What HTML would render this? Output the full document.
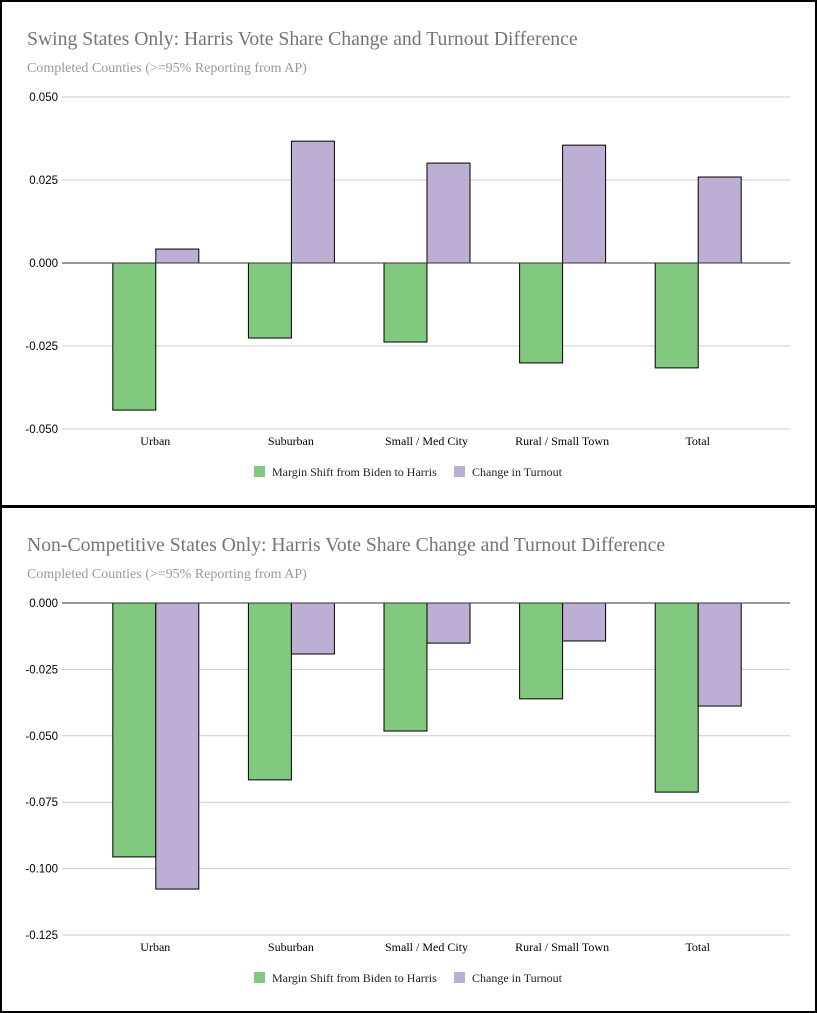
<!DOCTYPE html>
<html><head><meta charset="utf-8"><style>
body{margin:0;width:817px;height:1013px;background:#fff;overflow:hidden}
svg{display:block}
</style></head><body>
<svg id="s" width="817" height="1013"></svg>
<script>
const categories=["Urban","Suburban","Small / Med City","Rural / Small Town","Total"];
const swingMargin=[-0.0443,-0.0226,-0.0238,-0.0301,-0.0316];
const swingTurnout=[0.0042,0.0367,0.0301,0.0355,0.0259];
const swingTicks=[0.05,0.025,0,-0.025,-0.05];
const ncMargin=[-0.0956,-0.0666,-0.0482,-0.0361,-0.0712];
const ncTurnout=[-0.1077,-0.0192,-0.0151,-0.0143,-0.0388];
const ncTicks=[0,-0.025,-0.05,-0.075,-0.1,-0.125];
const seriesNames=["Margin Shift from Biden to Harris","Change in Turnout"];
const colors=["#81c97e","#bdaed4"];
const NS="http://www.w3.org/2000/svg";
const svg=document.getElementById('s');
function mk(t,a,p,txt){const e=document.createElementNS(NS,t);for(const k in a)e.setAttribute(k,a[k]);if(txt!==undefined)e.textContent=txt;(p||svg).appendChild(e);return e;}
function chart(oy,title,ticks,series,slug){
  const g=mk('g',{});
  
  
  const t=mk('text',{x:27,y:oy+45,'font-family':'Liberation Serif, serif','font-size':19.7,fill:'#757575'},g,title);
  
  const st=mk('text',{x:27,y:oy+72,'font-family':'Liberation Serif, serif','font-size':14,fill:'#999'},g,'Completed Counties (>=95% Reporting from AP)');
  
  const top=oy+97, bot=oy+429, mx=ticks[0], mn=ticks[ticks.length-1];
  const y=v=>top+(mx-v)/(mx-mn)*(bot-top);
  const x0=87.5, step=135.6;
  const cx=i=>x0+step*(i+0.5);
  ticks.forEach(v=>{
    if(v!==0){const l=mk('line',{x1:62,x2:790,y1:y(v),y2:y(v),stroke:'#ccc','stroke-width':1},g);}
    const tl=mk('text',{x:58,y:y(v)+4,'text-anchor':'end','font-family':'Liberation Sans, sans-serif','font-size':11.5,fill:'#000'},g,v.toFixed(3));
    
  });
  const bw=43;
  series.forEach((vals,s)=>{
    vals.forEach((v,i)=>{
      const bx=cx(i)-bw+s*bw, y1=Math.min(y(v),y(0)), h=Math.abs(y(v)-y(0));
      const r=mk('rect',{x:bx+0.5,y:y1,width:bw,height:h,fill:colors[s],stroke:'#000','stroke-width':1},g);
      
      
    });
  });
  const z=mk('line',{x1:62,x2:790,y1:y(0),y2:y(0),stroke:'#333','stroke-width':1},g);
  
  categories.forEach((c,i)=>{
    const tl=mk('text',{x:cx(i),y:oy+445,'text-anchor':'middle','font-family':'Liberation Serif, serif','font-size':12,fill:'#000'},g,c);
    
  });
  const lx=[254,454];
  seriesNames.forEach((n,s)=>{
    const sw=mk('rect',{x:lx[s],y:oy+466,width:11,height:11,fill:colors[s]},g);
    
    const lt=mk('text',{x:lx[s]+18,y:oy+476,'font-family':'Liberation Serif, serif','font-size':12,fill:'#222'},g,n);
    
  });
}
const b1=mk('rect',{x:1,y:1,width:815,height:505,fill:'none',stroke:'#000','stroke-width':2});

const b2=mk('rect',{x:1,y:507,width:815,height:505,fill:'none',stroke:'#000','stroke-width':2});

mk('line',{x1:0,x2:817,y1:506.5,y2:506.5,stroke:'#000','stroke-width':3});
chart(0,'Swing States Only: Harris Vote Share Change and Turnout Difference',swingTicks,[swingMargin,swingTurnout],'swing');
chart(506,'Non-Competitive States Only: Harris Vote Share Change and Turnout Difference',ncTicks,[ncMargin,ncTurnout],'non-competitive');
</script>
</body></html>
